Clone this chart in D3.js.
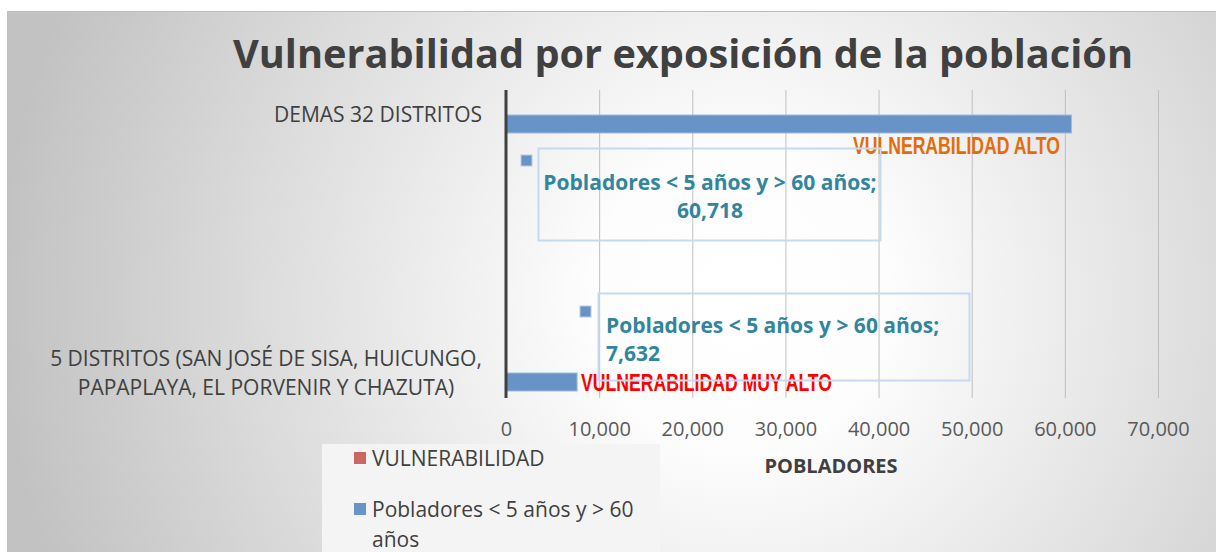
<!DOCTYPE html>
<html>
<head>
<meta charset="utf-8">
<script src="https://cdn.jsdelivr.net/npm/d3@7"></script>
<style>
  body { margin: 0; background: #fff; }
  text { font-family: "Open Sans", sans-serif; }
</style>
</head>
<body>
<div id="chart"></div>
<script>
// data
const categories = ['DEMAS 32 DISTRITOS', '5 DISTRITOS (SAN JOSÉ DE SISA, HUICUNGO, PAPAPLAYA, EL PORVENIR Y CHAZUTA)'];
const catLines = [['DEMAS 32 DISTRITOS'], ['5 DISTRITOS (SAN JOSÉ DE SISA, HUICUNGO,', 'PAPAPLAYA, EL PORVENIR Y CHAZUTA)']];
const pobladores = [60718, 7632];
const vulnerabilidad = ['VULNERABILIDAD ALTO', 'VULNERABILIDAD MUY ALTO'];
const vulnColors = ['#e46c0a', '#ff0000'];
const xTicks = [0, 10000, 20000, 30000, 40000, 50000, 60000, 70000];
const legendItems = [
  {name: 'VULNERABILIDAD', color: '#cd6562'},
  {name: 'Pobladores < 5 años y > 60 años', color: '#6793c7'}
];

const width = 1216, height = 552;
const svg = d3.select('#chart').append('svg')
  .attr('width', width).attr('height', height);

const defs = svg.append('defs');
const grad = defs.append('radialGradient').attr('id', 'bg')
  .attr('gradientUnits', 'userSpaceOnUse')
  .attr('cx', 740).attr('cy', 300).attr('r', 740);
grad.append('stop').attr('offset', 0).attr('stop-color', '#ffffff');
grad.append('stop').attr('offset', 0.2).attr('stop-color', '#fdfdfd');
grad.append('stop').attr('offset', 1).attr('stop-color', '#c2c2c2');

svg.append('rect').attr('x', 7).attr('y', 11).attr('width', width - 7).attr('height', height - 11)
  .attr('fill', 'url(#bg)');
svg.append('line').attr('x1', 7).attr('x2', width).attr('y1', 11.5).attr('y2', 11.5)
  .attr('stroke', '#bdbdbd').attr('stroke-width', 1);

// title
svg.append('text').attr('x', 683).attr('y', 68).attr('text-anchor', 'middle')
  .attr('font-size', 40).attr('font-weight', 'bold').attr('fill', '#404040')
  .attr('textLength', 900).attr('lengthAdjust', 'spacingAndGlyphs')
  .text('Vulnerabilidad por exposición de la población');

const plotTop = 90, plotBottom = 398;
const x = d3.scaleLinear().domain([0, 70000]).range([506, 1158]);
const y = d3.scalePoint().domain(categories).range([124, 382]);
const barH = 18;

// gridlines
svg.append('g').selectAll('line').data(xTicks.slice(1)).join('line')
  .attr('x1', d => x(d) + 0.5).attr('x2', d => x(d) + 0.5)
  .attr('y1', plotTop).attr('y2', plotBottom)
  .attr('stroke', '#bfbfbf').attr('stroke-width', 1);

// x axis tick labels
const xAxis = svg.append('g').attr('transform', `translate(0,${plotBottom})`)
  .call(d3.axisBottom(x).tickValues(xTicks).tickSize(0).tickPadding(24)
    .tickFormat(d3.format(',')));
xAxis.select('.domain').remove();
xAxis.selectAll('text').attr('font-size', 20).attr('fill', '#595959');

svg.append('text').attr('x', 831).attr('y', 473).attr('text-anchor', 'middle')
  .attr('font-size', 20).attr('font-weight', 'bold').attr('fill', '#404040')
  .text('POBLADORES');

// bars
svg.append('g').selectAll('rect').data(pobladores).join('rect')
  .attr('x', x(0)).attr('y', (d, i) => y(categories[i]) - barH / 2)
  .attr('width', d => x(d) - x(0)).attr('height', barH)
  .attr('fill', '#6793c7').attr('stroke', '#9ebbe0').attr('stroke-width', 1);

// vertical axis line
svg.append('line').attr('x1', x(0)).attr('x2', x(0)).attr('y1', plotTop).attr('y2', plotBottom)
  .attr('stroke', '#404040').attr('stroke-width', 3);

// category labels
const catG = svg.append('g');
catLines.forEach((lines, i) => {
  const cy = y(categories[i]);
  if (lines.length === 1) {
    catG.append('text').attr('font-size', 21).attr('fill', '#404040')
      .attr('x', 482).attr('y', cy - 2).attr('text-anchor', 'end').text(lines[0]);
  } else {
    lines.forEach((ln, j) => {
      catG.append('text').attr('font-size', 21).attr('fill', '#404040')
        .attr('x', 266).attr('y', cy - 16 + j * 29).attr('text-anchor', 'middle').text(ln);
    });
  }
});

// vulnerability labels (condensed bold)
const vulnPos = [{x: 1060, dy: 30, anchor: 'end', len: 207}, {x: 581, dy: 9, anchor: 'start', len: 251}];
vulnerabilidad.forEach((v, i) => {
  svg.append('text').attr('x', vulnPos[i].x).attr('y', y(categories[i]) + vulnPos[i].dy)
    .attr('text-anchor', vulnPos[i].anchor).attr('font-size', 23).attr('font-weight', 'bold')
    .style('font-family', '"Liberation Sans Narrow", "Liberation Sans", Arial, sans-serif')
    .attr('textLength', vulnPos[i].len).attr('lengthAdjust', 'spacingAndGlyphs')
    .attr('fill', vulnColors[i]).text(v);
});

// data label callouts
const callouts = [
  {bx: 538, by: 148, bw: 342, bh: 92, mx: 521, my: 155, anchor: 'middle', tx: 710, ty: 190},
  {bx: 598, by: 293, bw: 371, bh: 87, mx: 580, my: 306, anchor: 'start', tx: 606, ty: 333}
];
callouts.forEach((c, i) => {
  const lines = ['Pobladores < 5 años y > 60 años;', d3.format(',')(pobladores[i])];
  svg.append('rect').attr('x', c.bx + 0.5).attr('y', c.by + 0.5).attr('width', c.bw).attr('height', c.bh)
    .attr('fill', 'none').attr('stroke', '#c6d9f1').attr('stroke-width', 2);
  svg.append('rect').attr('x', c.mx).attr('y', c.my).attr('width', 11).attr('height', 11)
    .attr('fill', '#6793c7').attr('stroke', '#b8cce4').attr('stroke-width', 1);
  lines.forEach((ln, j) => {
    svg.append('text').attr('x', c.tx).attr('y', c.ty + j * 28)
      .attr('text-anchor', c.anchor).attr('font-size', 21).attr('font-weight', 'bold')
      .attr('fill', '#31859c').text(ln);
  });
});

// legend
const lg = svg.append('g');
lg.append('rect').attr('x', 322).attr('y', 444).attr('width', 338).attr('height', 108)
  .attr('fill', '#f4f4f4');
const legendPos = [{my: 452, lines: ['VULNERABILIDAD']}, {my: 503, lines: ['Pobladores < 5 años y > 60', 'años']}];
legendItems.forEach((it, i) => {
  lg.append('rect').attr('x', 354).attr('y', legendPos[i].my).attr('width', 12).attr('height', 12)
    .attr('fill', it.color);
  legendPos[i].lines.forEach((ln, j) => {
    lg.append('text').attr('x', 372).attr('y', legendPos[i].my + 14 + j * 30)
      .attr('font-size', 21).attr('fill', '#404040').text(ln);
  });
});
</script>
</body>
</html>
